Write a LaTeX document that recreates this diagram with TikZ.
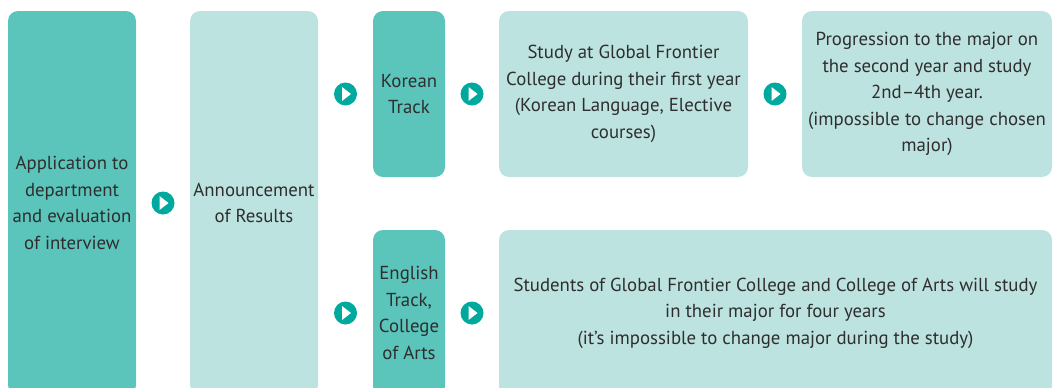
\documentclass[tikz,border=0pt]{standalone}
\usepackage{fontspec}
\setmainfont{PT Sans}
\usetikzlibrary{calc}
\definecolor{darkbox}{HTML}{5BC4BB}
\definecolor{lightbox}{HTML}{BDE3E0}
\definecolor{dotcol}{HTML}{00A99D}
\definecolor{txtcol}{HTML}{2E2E2E}

\begin{document}
\begin{tikzpicture}[x=1pt,y=-1pt,
    every node/.style={inner sep=0pt, text=txtcol, align=center,
      font=\fontsize{18.8}{26.5}\selectfont},
    darkstep/.style={fill=darkbox, rounded corners=10pt},
    lightstep/.style={fill=lightbox, rounded corners=10pt},
    nextdot/.style={circle, fill=dotcol, minimum size=23pt,
      path picture={\fill[white] ([xshift=-3.5pt,yshift=-7pt]path picture bounding box.center)
        -- ++(9pt,7pt) -- ++(-9pt,7pt) -- cycle;}}]
  \useasboundingbox (0,0) rectangle (1055,388);
  \clip (0,0) rectangle (1055,388);
  % columns of steps
  \node [darkstep, minimum width=128pt, minimum height=384pt] (app) at (72,203)
    {Application to\\department\\and evaluation\\of interview};
  \node [lightstep, minimum width=128pt, minimum height=384pt] (ann) at (254,203)
    {Announcement\\of Results};
  % korean track
  \node [darkstep, minimum width=72pt, minimum height=166pt] (kor) at (409,94)
    {Korean\\Track};
  \node [lightstep, minimum width=249pt, minimum height=166pt] (first) at (623.5,94)
    {Study at Global Frontier\\College during their first year\\(Korean Language, Elective\\courses)};
  \node [lightstep, minimum width=250pt, minimum height=166pt] (prog) at (927,94)
    {Progression to the major on\\the second year and study\\2nd--4th year.\\(impossible to change chosen\\major)};
  % english track
  \node [darkstep, minimum width=72pt, minimum height=166pt] (eng) at (409,313)
    {English\\Track,\\College\\of Arts};
  \node [lightstep, minimum width=553pt, minimum height=166pt] (four) at (775.5,313)
    {Students of Global Frontier College and College of Arts will study\\in their major for four years\\(it’s impossible to change major during the study)};
  % arrows
  \node [nextdot] (d1) at ($(app.east)!0.5!(ann.west)$) {};
  \node [nextdot] (d2) at ($(ann.east |- kor.west)!0.5!(kor.west)$) {};
  \node [nextdot] (d3) at ($(kor.east)!0.5!(first.west)$) {};
  \node [nextdot] (d4) at ($(first.east)!0.5!(prog.west)$) {};
  \node [nextdot] (d5) at ($(ann.east |- eng.west)!0.5!(eng.west)$) {};
  \node [nextdot] (d6) at ($(eng.east)!0.5!(four.west)$) {};
\end{tikzpicture}
\end{document}
